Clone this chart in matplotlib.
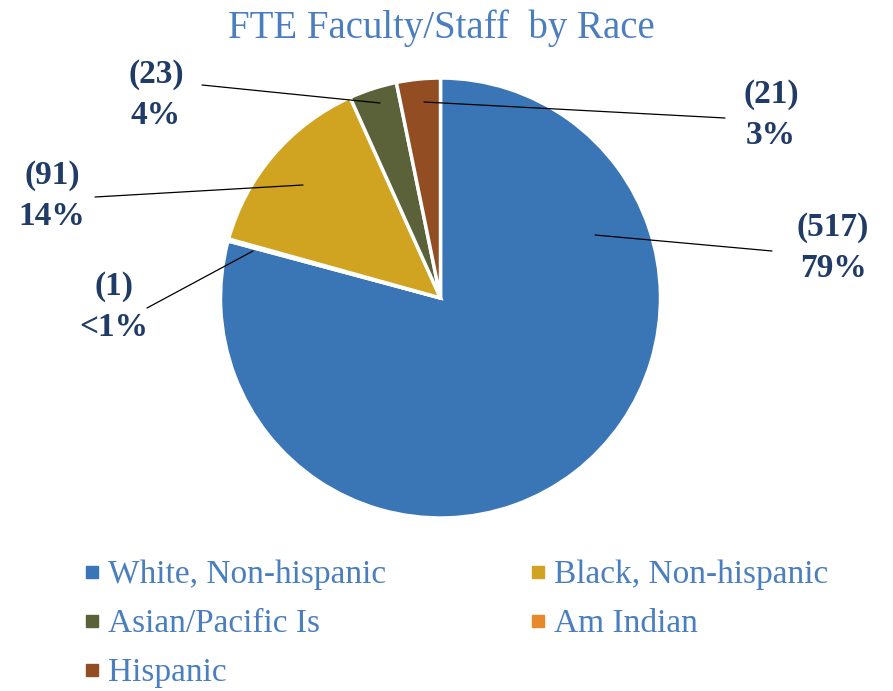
import matplotlib
matplotlib.use('Agg')
import matplotlib.pyplot as plt
from matplotlib.lines import Line2D

plt.rcParams['font.family'] = ['Liberation Serif', 'DejaVu Serif']

# data, in drawing order (clockwise from 12 o'clock)
races = ['White, Non-hispanic', 'Am Indian', 'Black, Non-hispanic',
         'Asian/Pacific Is', 'Hispanic']
counts = [517, 1, 91, 23, 21]
colors = ['#3a75b6', '#e7882a', '#d0a420', '#5b6139', '#934d22']
legend_order = ['White, Non-hispanic', 'Asian/Pacific Is', 'Hispanic',
                'Black, Non-hispanic', 'Am Indian']

W, H = 893, 691
def py(y):
    return H - y

fig = plt.figure(figsize=(W / 100, H / 100), dpi=100)
ax = fig.add_axes([0, 0, 1, 1])

ax.pie(counts, colors=colors, startangle=90, counterclock=False,
       center=(440.5, py(298)), radius=220,
       wedgeprops=dict(edgecolor='white', linewidth=2.5))
ax.set_xlim(0, W)
ax.set_ylim(0, H)
ax.set_aspect('equal')
ax.axis('off')

ax.text(441, py(28), 'FTE Faculty/Staff  by Race', ha='center', va='center',
        fontsize=28, color='#4a7ebf')

# label placement: label centre, line start, line end inside wedge
label_pos = {'White, Non-hispanic': ((833, 248), (772, 251), (595, 235)),
             'Am Indian': ((114, 307), (147, 308), (253, 251)),
             'Black, Non-hispanic': ((52, 196), (95, 197), (303, 185)),
             'Asian/Pacific Is': ((156, 95), (202, 85), (380, 103)),
             'Hispanic': ((771, 115), (725, 118), (424, 102))}

total = sum(counts)
for race, n in zip(races, counts):
    pct = n / total * 100
    ptxt = '<1%' if pct < 1 else f'{round(pct)}%'
    (tx, ty), (sx, sy), (ex, ey) = label_pos[race]
    ax.text(tx, py(ty), f'({n})\n{ptxt}', ha='center', va='center',
            fontsize=24, fontweight='bold', color='#1f3b66', linespacing=1.4)
    ax.annotate('', xy=(ex, py(ey)), xytext=(sx, py(sy)),
                arrowprops=dict(arrowstyle='-', color='black', lw=0.9,
                                shrinkA=0, shrinkB=0))

handles = []
for race in legend_order:
    c = colors[races.index(race)]
    handles.append(Line2D([], [], marker='s', linestyle='', color=c,
                          markersize=8))
ax.legend(handles, legend_order, ncol=2, loc='upper left',
          bbox_to_anchor=(66 / W, 1 - 543 / H), frameon=False, fontsize=24,
          labelcolor='#4a7ebf', handlelength=0.55, handletextpad=0.2,
          labelspacing=0.56, columnspacing=4.3, borderpad=0)

fig.savefig('out.png', dpi=100)
